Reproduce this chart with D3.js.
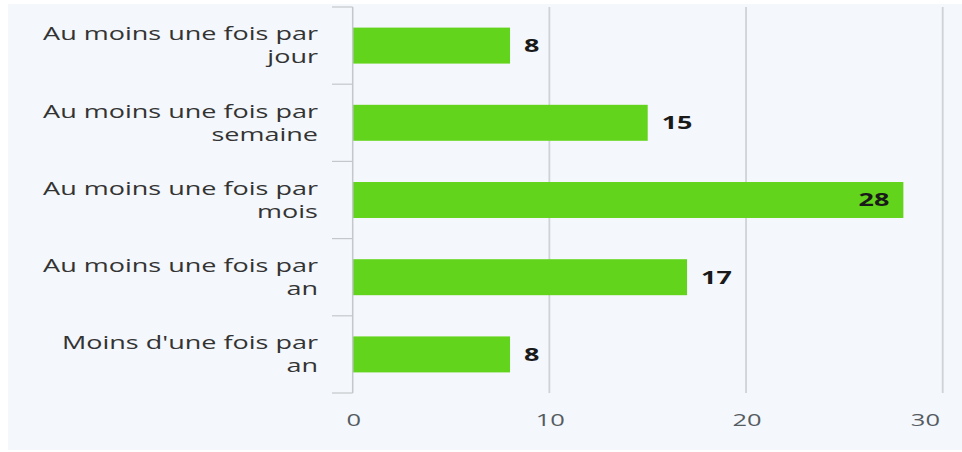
<!DOCTYPE html>
<html>
<head>
<meta charset="utf-8">
<script src="https://cdn.jsdelivr.net/npm/d3@7"></script>
<style>
  html, body { margin: 0; padding: 0; background: #ffffff; }
  svg { display: block; }
</style>
</head>
<body>
<svg id="chart"></svg>
<script>
// ---- data ----
const categories = [
  "Au moins une fois par jour",
  "Au moins une fois par semaine",
  "Au moins une fois par mois",
  "Au moins une fois par an",
  "Moins d'une fois par an"
];
const values = [8, 15, 28, 17, 8];
const xTicks = [0, 10, 20, 30];

// ---- layout (pixel units; the drawing is stretched horizontally like the reference) ----
const W = 962, H = 452;
const sx = 1.5;                  // horizontal stretch of the reference image
const VW = W / sx;               // viewBox width
const px = v => v / sx;          // convert horizontal pixel value to viewBox units

const svg = d3.select("#chart")
  .attr("width", W).attr("height", H)
  .attr("viewBox", `0 0 ${VW} ${H}`)
  .attr("preserveAspectRatio", "none");

const font = "'Open Sans', 'Noto Sans', sans-serif";

// background
svg.append("rect")
  .attr("x", px(8)).attr("y", 4)
  .attr("width", px(W - 8)).attr("height", H - 6)
  .attr("fill", "#f4f7fb");

const x = d3.scaleLinear().domain([0, 30]).range([px(352.7), px(942.7)]);
const yBand = d3.scaleBand().domain(categories).range([7, 393]).paddingInner(0).paddingOuter(0);
const yBar = d3.scaleBand().domain(categories).range([7, 393]).paddingInner(0.534).paddingOuter(0.267);

// grid lines
svg.append("g").selectAll("line").data(xTicks.filter(t => t > 0)).join("line")
  .attr("x1", d => x(d)).attr("x2", d => x(d))
  .attr("y1", 7).attr("y2", 393)
  .attr("stroke", "#cfd2d6").attr("stroke-width", 1.2);

// bars
svg.append("g").selectAll("rect").data(values).join("rect")
  .attr("x", x(0))
  .attr("y", (d, i) => yBar(categories[i]))
  .attr("width", d => x(d) - x(0))
  .attr("height", yBar.bandwidth())
  .attr("fill", "#63d41c");

// y axis line and category boundary ticks
svg.append("line")
  .attr("x1", x(0)).attr("x2", x(0)).attr("y1", 7).attr("y2", 393)
  .attr("stroke", "#c4c8cc").attr("stroke-width", 1);
const bounds = categories.map(c => yBand(c)).concat([yBand(categories[categories.length - 1]) + yBand.bandwidth()]);
svg.append("g").selectAll("line").data(bounds).join("line")
  .attr("x1", px(332)).attr("x2", x(0))
  .attr("y1", d => d).attr("y2", d => d)
  .attr("stroke", "#c4c8cc").attr("stroke-width", 1.2);

// category labels (two lines)
const catG = svg.append("g");
categories.forEach(c => {
  const cut = c.lastIndexOf(" ");
  const lines = [c.slice(0, cut), c.slice(cut + 1)];
  const cy = yBand(c) + yBand.bandwidth() / 2;
  const t = catG.append("text")
    .attr("x", px(318))
    .attr("text-anchor", "end")
    .attr("font-family", font)
    .attr("font-size", 18)
    .attr("fill", "#333333");
  lines.forEach((ln, k) => {
    t.append("tspan")
      .attr("x", px(318))
      .attr("y", cy + (k === 0 ? -11.5 : 11.5))
      .attr("dy", "0.35em")
      .text(ln);
  });
});

// value labels
svg.append("g").selectAll("text").data(values).join("text")
  .attr("x", d => d >= 25 ? x(d) - px(14) : x(d) + px(14))
  .attr("y", (d, i) => yBand(categories[i]) + yBand.bandwidth() / 2)
  .attr("dy", "0.36em")
  .attr("text-anchor", d => d >= 25 ? "end" : "start")
  .attr("font-family", font)
  .attr("font-size", 18)
  .attr("font-weight", "bold")
  .attr("fill", "#1a1a1a")
  .text(d => d);

// x tick labels
svg.append("g").selectAll("text").data(xTicks).join("text")
  .attr("x", (d, i) => i === xTicks.length - 1 ? px(940) : x(d) + px(1))
  .attr("y", 420)
  .attr("dy", "0.35em")
  .attr("text-anchor", (d, i) => i === xTicks.length - 1 ? "end" : "middle")
  .attr("font-family", font)
  .attr("font-size", 17)
  .attr("fill", "#555b61")
  .text(d => d);
</script>
</body>
</html>
